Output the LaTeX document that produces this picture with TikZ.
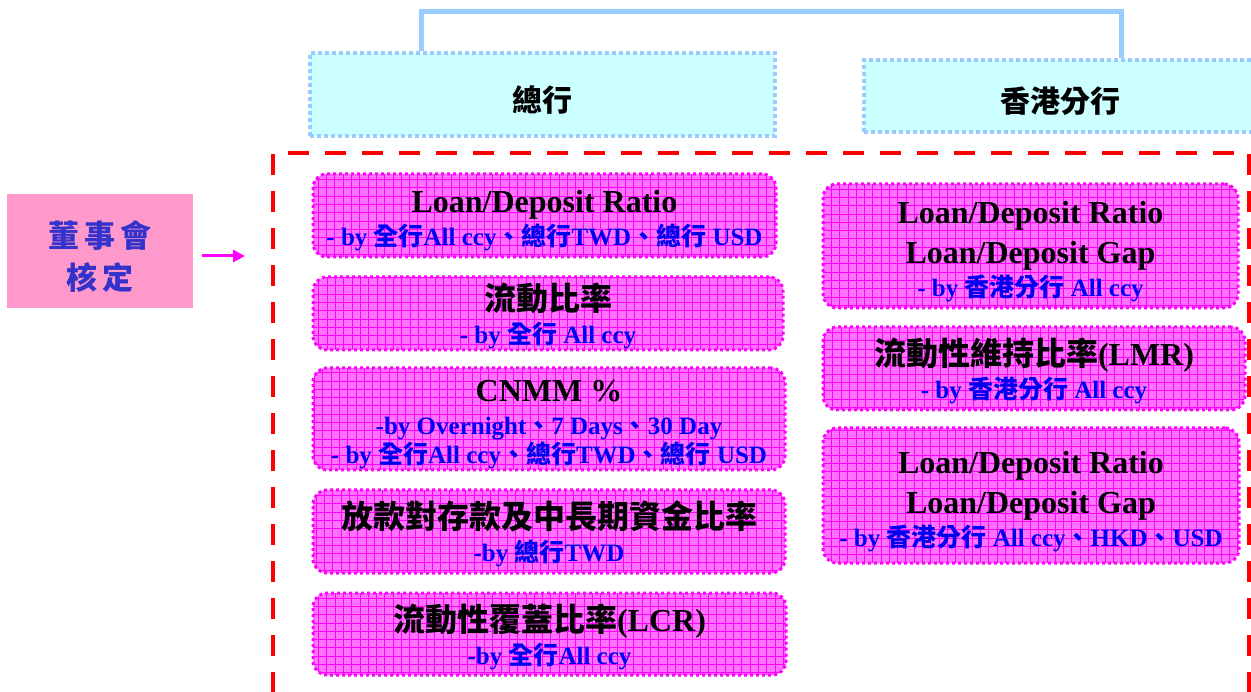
\documentclass[tikz,border=0pt]{standalone}
\usepackage{fontspec}
\setmainfont{Liberation Serif}
\newfontfamily\cjk{Noto Sans CJK TC}
\usetikzlibrary{calc,arrows.meta}
\definecolor{hdrfill}{RGB}{204,255,255}
\definecolor{hdrline}{RGB}{153,204,255}
\definecolor{boardfill}{RGB}{255,153,204}
\definecolor{boardtext}{RGB}{51,51,204}
\definecolor{mag}{RGB}{255,0,255}
\definecolor{magfill}{RGB}{255,115,255}
\definecolor{gridc}{RGB}{255,0,255}
\definecolor{subblue}{RGB}{0,0,240}
\definecolor{framered}{RGB}{255,0,0}
\newcommand\zh[1]{{\cjk #1}}
\newcommand\subl[1]{{\fontsize{25}{29}\selectfont\color{subblue}#1}}
\newcommand\metricfont{\bfseries\fontsize{32}{29}\selectfont}
\newcommand\lift[1]{\rule{0pt}{#1}}
\tikzset{
  hdr/.style={draw=hdrline, fill=hdrfill, line width=3.5pt, dash pattern=on 4pt off 3pt,
    inner sep=0pt, font=\cjk\bfseries\fontsize{30}{34}\selectfont},
  metric/.style={draw=mag, fill=magfill, line width=3pt, dash pattern=on 3pt off 3pt,
    rounded corners=14pt, inner sep=0pt, align=center, font=\metricfont,
    path picture={\draw[gridc, line width=0.6pt, solid]
      (path picture bounding box.south west) grid[step=8.3pt] (path picture bounding box.north east);}},
  board/.style={fill=boardfill, inner sep=0pt, align=center, text=boardtext,
    font=\cjk\bfseries\fontsize{31}{42}\selectfont},
  link/.style={draw=hdrline, line width=5pt},
  pointer/.style={draw=mag, line width=3pt, -{Triangle[length=12pt,width=12pt]}},
  frame/.style={draw=framered, line width=4.5pt, dash pattern=on 21pt off 16pt}
}
\begin{document}
\begin{tikzpicture}[x=1pt,y=-1pt]
\clip (0,0) rectangle (1251,692);
\useasboundingbox (0,0) rectangle (1251,692);

% headers
\node[hdr, minimum width=465pt, minimum height=83pt] (hq) at (542.5,94.5) {\lift{37pt}總行};
\node[hdr, minimum width=392pt, minimum height=72pt] (hk) at (1060,96) {\lift{37pt}香港分行};
\draw[link] ($(hq.north west)+(113,0)$) |- (700,12) -| ($(hk.north west)+(259,0)$);

% board
\node[board, minimum width=186pt, minimum height=114pt] (bd) at (100,251)
  {\lift{38pt}董\,事\,會\\核\,定};
\coordinate (arrowend) at (245,256);
\draw[pointer] ($(bd.east)+(9,5)$) -- (arrowend);

% red frame
\draw[frame] (273,730) -- (273,153) -- (1249,153) -- (1249,730);

% left column
\node[metric, minimum width=463pt, minimum height=83pt] (m1) at (544.5,215.5)
  {\lift{33pt}Loan/Deposit Ratio\\[4pt]
   \subl{- by \zh{全行}All ccy\zh{、總行}TWD\zh{、總行} USD}};
\node[metric, minimum width=470pt, minimum height=73pt] (m2) at (548,313.5)
  {\lift{33pt}\zh{流動比率}\\[4pt]
   \subl{- by \zh{全行} All ccy}};
\node[metric, minimum width=472pt, minimum height=102pt] (m3) at (549,419)
  {\lift{33pt}CNMM \%\\[4pt]
   \subl{-by Overnight\zh{、}7 Days\zh{、}30 Day}\\
   \subl{- by \zh{全行}All ccy\zh{、總行}TWD\zh{、總行} USD}};
\node[metric, minimum width=472pt, minimum height=83pt] (m4) at (549,531.5)
  {\lift{33pt}\zh{放款對存款及中長期資金比率}\\[4pt]
   \subl{-by \zh{總行}TWD}};
\node[metric, minimum width=473pt, minimum height=82pt] (m5) at (549.5,634)
  {\lift{33pt}\zh{流動性覆蓋比率}(LCR)\\[4pt]
   \subl{-by \zh{全行}All ccy}};

% right column
\node[metric, minimum width=415pt, minimum height=124pt] (r1) at (1030.5,246)
  {\lift{34pt}Loan/Deposit Ratio\\[10pt]
   Loan/Deposit Gap\\[4pt]
   \subl{- by \zh{香港分行} All ccy}};
\node[metric, minimum width=422pt, minimum height=83pt] (r2) at (1034,368.5)
  {\lift{33pt}\zh{流動性維持比率}(LMR)\\[4pt]
   \subl{- by \zh{香港分行} All ccy}};
\node[metric, minimum width=416pt, minimum height=135pt] (r3) at (1031,495.5)
  {\lift{34pt}Loan/Deposit Ratio\\[10pt]
   Loan/Deposit Gap\\[4pt]
   \subl{- by \zh{香港分行} All ccy\zh{、}HKD\zh{、}USD}};
\end{tikzpicture}
\end{document}
